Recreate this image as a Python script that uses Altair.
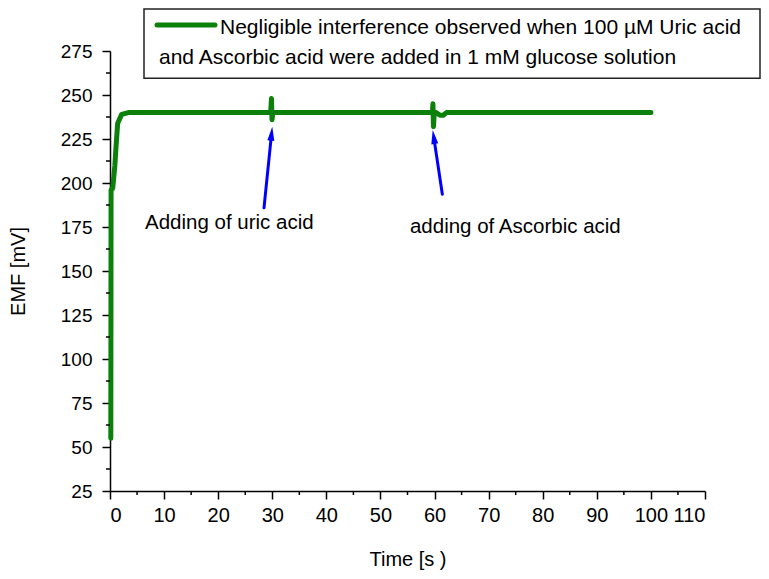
import math
import altair as alt
import pandas as pd

# ---- data ----
time_s = [0.15, 0.18, 0.2, 0.5, 0.9, 1.1, 1.42, 2.15, 3.4, 10, 20, 29.7, 29.85, 29.95, 30.1, 30.4,
          40, 50, 59.6, 59.7, 59.8, 59.95, 60.3, 61.0, 61.6, 62.2, 70, 80, 90, 100]
emf_mv = [55, 139, 196, 197, 210, 220, 234, 239, 240, 240, 240, 240, 248, 236, 240, 240,
          240, 240, 240, 245, 232, 240, 240, 238.5, 238.5, 240, 240, 240, 240, 240]

x_major = list(range(0, 111, 10))
x_minor = [v + 5 for v in range(0, 110, 10)]
y_major = list(range(25, 276, 25))
y_minor = [v + 12.5 for v in range(25, 275, 25)]

# annotation arrows (tail -> tip), in data units
arrow_tail_t = [28.47, 61.44]
arrow_tail_v = [185.9, 193.6]
arrow_tip_t = [30.0, 59.66]
arrow_tip_v = [232.0, 230.1]

notes = ["Adding of uric acid", "adding of Ascorbic acid"]
note_t = [6.47, 55.45]
note_v = [173.7, 171.6]

legend_lines = ["Negligible interference observed when 100 \u00b5M Uric acid",
                "and Ascorbic acid were added in 1 mM glucose solution"]

# ---- layout ----
W, H = 595, 440
XD, YD = [0, 110], [25, 275]
px_x = W / (XD[1] - XD[0])
px_y = H / (YD[1] - YD[0])
FONT = "Liberation Sans"
GREEN = "#0b800b"
BLUE = "#0000ff"

curve = pd.DataFrame({"t": time_s, "v": emf_mv, "i": range(len(time_s))})

xs = alt.Scale(domain=XD, nice=False, zero=False)
ys = alt.Scale(domain=YD, nice=False, zero=False)

axis_common = dict(grid=False, domainColor="black", domainWidth=1.5, tickColor="black",
                   tickWidth=1.5, tickSize=8, labelFont=FONT, labelColor="black",
                   titleFont=FONT, titleFontWeight="normal", titleColor="black",
                   titleFontSize=20)

line = alt.Chart(curve).mark_line(color=GREEN, strokeWidth=5, strokeCap="round",
                                  strokeJoin="round").encode(
    x=alt.X("t:Q", scale=xs, title="Time [s )",
            axis=alt.Axis(values=x_major, labelFontSize=20, labelPadding=6,
                          titleY=74, titleBaseline="alphabetic", **axis_common)),
    y=alt.Y("v:Q", scale=ys, title="EMF [mV]",
            axis=alt.Axis(values=y_major, labelFontSize=19, labelPadding=10,
                          titleX=-92, titleY=H / 2, titleAngle=-90,
                          titleBaseline="middle", titleAlign="center", **axis_common)),
    order="i:Q",
)

xminor = alt.Chart(pd.DataFrame({"t": x_minor})).mark_rule(color="black", strokeWidth=1.5).encode(
    x=alt.X("t:Q", scale=xs), y=alt.value(H), y2=alt.value(H + 4))
yminor = alt.Chart(pd.DataFrame({"v": y_minor})).mark_rule(color="black", strokeWidth=1.5).encode(
    y=alt.Y("v:Q", scale=ys), x=alt.value(-4), x2=alt.value(0))

# arrows
angles = []
for a, b, c, d in zip(arrow_tail_t, arrow_tail_v, arrow_tip_t, arrow_tip_v):
    dx = (c - a) * px_x
    dy = -(d - b) * px_y
    ang = math.degrees(math.atan2(dx, -dy))
    angles.append(ang % 360)
arr = pd.DataFrame({"t0": arrow_tail_t, "v0": arrow_tail_v, "t1": arrow_tip_t,
                    "v1": arrow_tip_v, "ang": angles})
arr["tb"] = arr["t1"] - (arr["t1"] - arr["t0"]) * 0.12
arr["vb"] = arr["v1"] - (arr["v1"] - arr["v0"]) * 0.12
shaft = alt.Chart(arr).mark_rule(color=BLUE, strokeWidth=3, strokeCap="round").encode(
    x=alt.X("t0:Q", scale=xs), y=alt.Y("v0:Q", scale=ys), x2="tb:Q", y2="vb:Q")
head = alt.Chart(arr).mark_point(shape="M0,0L-0.5,2L0.5,2Z", filled=True, opacity=1,
                                 color=BLUE, size=196).encode(
    x=alt.X("t1:Q", scale=xs), y=alt.Y("v1:Q", scale=ys), angle=alt.Angle("ang:Q", scale=None))

texts = alt.Chart(pd.DataFrame({"txt": notes, "t": note_t, "v": note_v})).mark_text(
    font=FONT, fontSize=20.5, align="left", baseline="alphabetic", color="black").encode(
    x=alt.X("t:Q", scale=xs), y=alt.Y("v:Q", scale=ys), text="txt:N")

one = pd.DataFrame({"a": [0]})
box = alt.Chart(one).mark_rect(fill="white", stroke="#222222", strokeWidth=1.5).encode(
    x=alt.value(34), x2=alt.value(650), y=alt.value(-42), y2=alt.value(27.3))
legline = alt.Chart(one).mark_rule(color=GREEN, strokeWidth=5, strokeCap="round").encode(
    x=alt.value(47), x2=alt.value(105), y=alt.value(-26))
legt1 = alt.Chart(one).mark_text(font=FONT, fontSize=21, align="left", baseline="alphabetic",
                                 color="black", text=legend_lines[0]).encode(
    x=alt.value(110), y=alt.value(-17.5))
legt2 = alt.Chart(one).mark_text(font=FONT, fontSize=21, align="left", baseline="alphabetic",
                                 color="black", text=legend_lines[1]).encode(
    x=alt.value(49), y=alt.value(13))

chart = alt.layer(line, xminor, yminor, shaft, head, texts, box, legline, legt1, legt2).properties(
    width=W, height=H, autosize="none", background="white",
    padding={"left": 102, "top": 43, "right": 56, "bottom": 80},
    view=alt.ViewBackground(stroke="transparent", strokeWidth=0, strokeOpacity=0),
).configure_view(strokeWidth=0, stroke="transparent", strokeOpacity=0).configure_axis(
    grid=False, gridOpacity=0)

chart.save("out.html", embed_options={"renderer": "svg", "actions": False})
